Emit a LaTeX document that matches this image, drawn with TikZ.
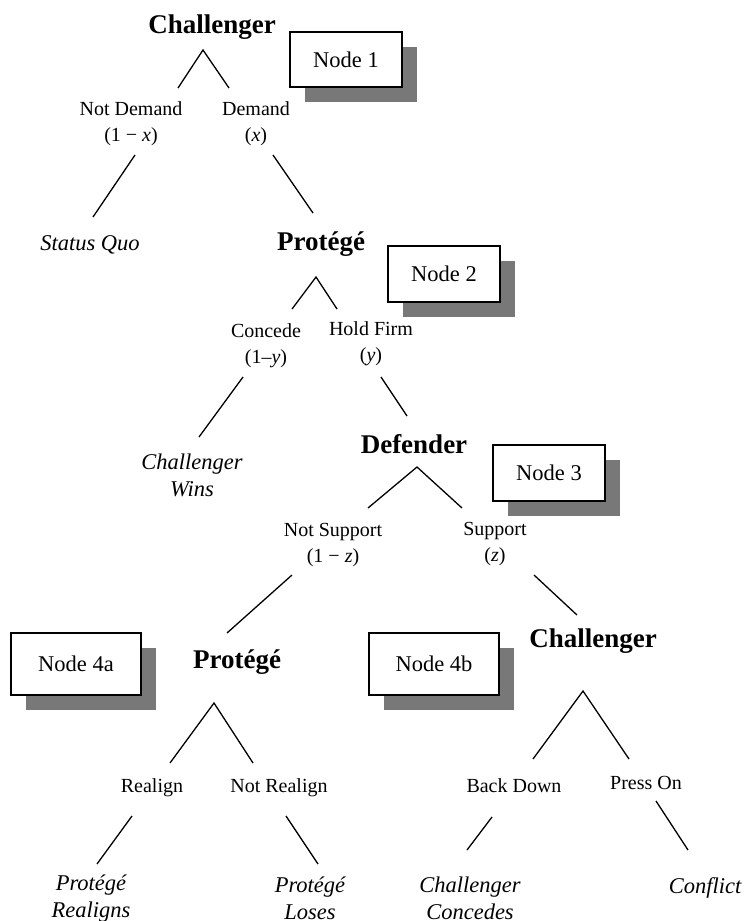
\documentclass[tikz,border=0pt]{standalone}
\usepackage{fontspec}
\setmainfont{Liberation Serif}
\usetikzlibrary{shadows}
\definecolor{shadowgray}{HTML}{787878}
\begin{document}
\begin{tikzpicture}[x=1pt,y=-1pt,
  player/.style={font=\fontsize{27}{32}\selectfont\bfseries, anchor=base, inner sep=0pt},
  move/.style={font=\fontsize{20}{26}\selectfont, align=center, inner sep=0pt},
  outcome/.style={font=\fontsize{22.5}{27}\selectfont\itshape, align=center, inner sep=0pt},
  nodebox/.style={draw, line width=1.3pt, fill=white, font=\fontsize{22.5}{27}\selectfont,
    general shadow={fill=shadowgray, shadow xshift=15pt, shadow yshift=-15pt}},
  branch/.style={line width=1.3pt}]
\useasboundingbox (0,0) rectangle (745,921);

% players
\node[player] (ch1) at (212,33) {Challenger};
\node[player] (pr1) at (321,250) {Protégé};
\node[player] (def) at (414,453) {Defender};
\node[player] (pr2) at (237,668) {Protégé};
\node[player] (ch2) at (593,647) {Challenger};

% node boxes
\node[nodebox, minimum width=112pt, minimum height=55pt] (n1) at (346,59.5) {Node 1};
\node[nodebox, minimum width=112pt, minimum height=56pt] (n2) at (444,274) {Node 2};
\node[nodebox, minimum width=112pt, minimum height=56pt] (n3) at (549,473) {Node 3};
\node[nodebox, minimum width=130pt, minimum height=62pt] (n4a) at (76,664) {Node 4a};
\node[nodebox, minimum width=130pt, minimum height=62pt] (n4b) at (434,664) {Node 4b};

% moves
\node[move] (notdemand) at (131,123.5) {Not Demand\\(1 − \textit{x})};
\node[move] (demand) at (256,123.5) {Demand\\(\textit{x})};
\node[move] (concede) at (266,345.5) {Concede\\(1–\textit{y})};
\node[move] (holdfirm) at (371,343.5) {Hold Firm\\(\textit{y})};
\node[move] (notsupport) at (333,545) {Not Support\\(1 − \textit{z})};
\node[move] (support) at (495,544) {Support\\(\textit{z})};
\node[move] (realign) at (152,788) {Realign};
\node[move] (notrealign) at (279,788) {Not Realign};
\node[move] (backdown) at (514,786) {Back Down};
\node[move] (presson) at (646,783) {Press On};

% outcomes
\node[outcome] (statusquo) at (90,245) {Status Quo};
\node[outcome] (chwins) at (192,475) {Challenger\\Wins};
\node[outcome] (prrealigns) at (91,898.5) {Protégé\\Realigns};
\node[outcome] (prloses) at (310,898.5) {Protégé\\Loses};
\node[outcome] (chconcedes) at (470,898.5) {Challenger\\Concedes};
\node[outcome] (conflict) at (705,888) {Conflict};

% branch points
\coordinate (t1) at (203,50);  \coordinate (t1l) at (178,88);  \coordinate (t1r) at (229,88);
\coordinate (t2) at (316,277); \coordinate (t2l) at (292,309); \coordinate (t2r) at (337,309);
\coordinate (t3) at (417,467); \coordinate (t3l) at (368,508); \coordinate (t3r) at (462,508);
\coordinate (t4) at (214,703); \coordinate (t4l) at (170,763); \coordinate (t4r) at (253,763);
\coordinate (t5) at (583,691); \coordinate (t5l) at (533,759); \coordinate (t5r) at (629,759);

\coordinate (l1a) at (135,155); \coordinate (l1b) at (93,217);
\coordinate (r1a) at (273,155); \coordinate (r1b) at (313,213);
\coordinate (l2a) at (243,377); \coordinate (l2b) at (199,437);
\coordinate (r2a) at (381,377); \coordinate (r2b) at (407,416);
\coordinate (l3a) at (292,575); \coordinate (l3b) at (227,633);
\coordinate (r3a) at (534,575); \coordinate (r3b) at (577,615);
\coordinate (l4a) at (132,816); \coordinate (l4b) at (97,864);
\coordinate (r4a) at (286,816); \coordinate (r4b) at (318,864);
\coordinate (l5a) at (492,817); \coordinate (l5b) at (467,850);
\coordinate (r5a) at (656,801); \coordinate (r5b) at (688,850);

\draw[branch] (t1l) -- (t1) -- (t1r);
\draw[branch] (t2l) -- (t2) -- (t2r);
\draw[branch] (t3l) -- (t3) -- (t3r);
\draw[branch] (t4l) -- (t4) -- (t4r);
\draw[branch] (t5l) -- (t5) -- (t5r);

\draw[branch] (l1a) -- (l1b);
\draw[branch] (r1a) -- (r1b);
\draw[branch] (l2a) -- (l2b);
\draw[branch] (r2a) -- (r2b);
\draw[branch] (l3a) -- (l3b);
\draw[branch] (r3a) -- (r3b);
\draw[branch] (l4a) -- (l4b);
\draw[branch] (r4a) -- (r4b);
\draw[branch] (l5a) -- (l5b);
\draw[branch] (r5a) -- (r5b);
\end{tikzpicture}
\end{document}
